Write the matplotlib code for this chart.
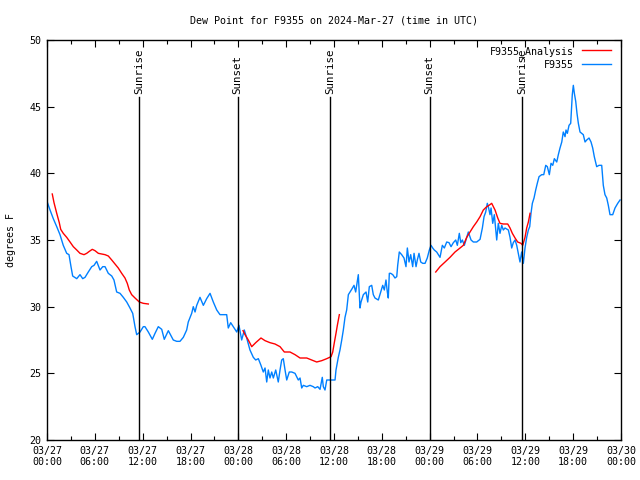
import numpy as np
import matplotlib
matplotlib.use("Agg")
import matplotlib.pyplot as plt

# ---------------- data ----------------
# time in hours since 2024-03-27 00:00 UTC
obs_hours = [0.00, 0.38, 0.79, 1.22, 1.63, 2.04, 2.47, 2.76, 3.01, 3.22, 3.73, 4.14, 4.48, 4.77,
             5.18, 5.61, 5.90, 6.23, 6.65, 6.99, 7.28, 7.69, 8.12, 8.40, 8.74, 9.16, 9.57, 10.00,
             10.41, 10.75, 11.04, 11.25, 11.67, 12.08, 12.29, 12.71, 13.21, 13.55, 13.96, 14.39,
             14.71, 15.22, 15.84, 16.27, 16.68, 17.10, 17.52, 17.72, 18.15, 18.35, 18.57, 18.78,
             19.19, 19.61, 20.03, 20.45, 20.86, 21.29, 21.70, 22.54, 22.74, 23.04, 23.37, 23.80,
             24.08, 24.42, 24.75, 25.05, 25.46, 25.88, 26.18, 26.51, 26.84, 27.13, 27.35, 27.56,
             27.76, 27.97, 28.19, 28.39, 28.69, 29.01, 29.23, 29.44, 29.64, 29.86, 30.07, 30.39,
             30.70, 31.11, 31.52, 31.74, 31.95, 32.15, 32.58, 32.99, 33.40, 33.62, 33.96, 34.25,
             34.53, 34.66, 34.87, 35.09, 35.71, 36.13, 36.25, 36.54, 36.75, 36.97, 37.17, 37.38,
             37.59, 37.80, 38.01, 38.22, 38.51, 38.72, 39.05, 39.26, 39.39, 39.68, 40.02, 40.23,
             40.43, 40.73, 40.93, 41.14, 41.56, 41.86, 42.11, 42.31, 42.52, 42.69, 42.81, 42.94,
             43.11, 43.37, 43.65, 43.87, 43.99, 44.19, 44.49, 44.78, 45.03, 45.20, 45.41, 45.62,
             45.87, 46.04, 46.29, 46.45, 46.66, 46.88, 47.13, 47.42, 47.70, 47.96, 48.17, 48.38,
             48.58, 48.88, 49.30, 49.59, 49.84, 50.14, 50.43, 50.68, 50.97, 51.27, 51.47, 51.72,
             51.90, 52.10, 52.35, 52.65, 52.85, 53.19, 53.48, 53.90, 54.32, 54.61, 54.82, 55.03,
             55.23, 55.36, 55.57, 55.70, 55.91, 56.11, 56.41, 56.61, 56.82, 57.04, 57.24, 57.45,
             57.87, 58.08, 58.29, 58.49, 58.71, 58.92, 59.12, 59.33, 59.54, 59.75, 59.96, 60.17,
             60.38, 60.55, 60.71, 60.88, 61.09, 61.30, 61.50, 61.72, 62.05, 62.31, 62.56, 62.76,
             63.01, 63.22, 63.44, 63.64, 63.94, 64.14, 64.35, 64.57, 64.76, 64.98, 65.10, 65.27,
             65.48, 65.69, 65.89, 66.02, 66.15, 66.32, 66.48, 66.65, 66.86, 67.07, 67.27, 67.49,
             67.70, 67.99, 68.24, 68.45, 68.65, 68.95, 69.24, 69.58, 69.78, 69.99, 70.21, 70.41,
             70.62, 70.96, 71.25, 71.59, 71.88]
obs_dewpt = [37.9, 37.25, 36.6, 36.0, 35.4, 34.6, 34.0, 33.9, 33.0, 32.3, 32.1, 32.4, 32.1, 32.2,
             32.6, 33.0, 33.1, 33.4, 32.75, 33.0, 33.0, 32.5, 32.3, 32.0, 31.1, 31.0, 30.7, 30.35,
             29.9, 29.5, 28.5, 27.9, 28.1, 28.5, 28.5, 28.1, 27.55, 28.0, 28.5, 28.3,
             27.55, 28.2, 27.5, 27.4, 27.4, 27.7, 28.25, 28.85, 29.5, 30.0, 29.6, 30.1,
             30.7, 30.1, 30.6, 31.0, 30.35, 29.75, 29.4, 29.4, 28.4, 28.8, 28.5, 28.1,
             28.6, 27.5, 28.25, 27.65, 26.75, 26.2, 26.0, 26.1, 25.6, 25.1, 25.4, 24.35,
             25.25, 24.65, 25.1, 24.65, 25.25, 24.35, 25.25, 26.0, 26.1, 25.25, 24.5, 25.1,
             25.1, 25.0, 24.5, 24.65, 23.9, 24.1, 24.0, 24.1, 24.0, 23.9, 24.0, 23.8,
             24.7, 24.0, 23.75, 24.5, 24.5, 24.5, 25.25, 26.2, 26.75, 27.5, 28.25, 29.2,
             29.75, 30.9, 31.1, 31.3, 31.6, 31.1, 32.4, 29.9, 30.35, 30.9, 31.1, 30.35,
             31.5, 31.6, 30.9, 30.65, 30.5, 31.1, 31.6, 31.25, 32.0, 31.1, 30.65, 32.5,
             32.5, 32.4, 32.15, 32.25, 33.1, 34.1, 33.9, 33.65, 33.0, 34.4, 33.35, 33.9,
             33.0, 34.0, 33.0, 33.5, 34.0, 33.35, 33.25, 33.25, 33.65, 34.25, 34.6, 34.4,
             34.25, 34.1, 33.7, 34.6, 34.4, 34.85, 34.8, 34.5, 34.8, 35.0, 34.6, 35.5,
             34.8, 35.0, 34.6, 35.2, 35.6, 35.0, 34.85, 34.85, 35.05, 35.9, 36.75, 37.1,
             37.75, 37.5, 36.9, 37.4, 36.25, 36.9, 35.0, 36.25, 35.5, 36.1, 35.75, 35.9,
             35.75, 35.2, 34.4, 34.8, 35.0, 34.6, 34.0, 33.35, 34.1, 33.25, 34.4, 35.2,
             35.75, 36.0, 37.0, 37.75, 38.15, 38.75, 39.25, 39.75, 39.9, 39.9, 40.6, 40.5,
             39.9, 40.75, 40.6, 41.1, 40.85, 41.4, 41.9, 42.35, 43.1, 42.75, 43.25, 43.0,
             43.6, 43.75, 45.9, 46.6, 46.0, 45.4, 44.5, 43.75, 43.1, 43.0, 42.9, 42.35,
             42.5, 42.65, 42.35, 41.9, 41.25, 40.5, 40.6, 40.6, 39.1, 38.4, 38.15, 37.6,
             36.9, 36.9, 37.4, 37.75, 38.0]

ana1_hours = [0.66, 0.88, 1.22, 1.54, 1.72, 2.04, 2.47, 2.89, 3.30, 3.73, 4.14, 4.64, 4.98, 5.31,
              5.68, 6.02, 6.44, 6.86, 7.28, 7.69, 8.12, 8.53, 8.94, 9.37, 9.78, 10.07, 10.32,
              10.62, 11.04, 11.58, 12.08, 12.71]
ana1_dewpt = [38.45, 37.8, 37.0, 36.3, 35.8, 35.5, 35.2, 34.85, 34.5, 34.25, 34.0, 33.9, 34.0, 34.15,
              34.3, 34.2, 34.0, 33.95, 33.9, 33.8, 33.5, 33.2, 32.9, 32.5, 32.15, 31.75, 31.25,
              30.9, 30.65, 30.35, 30.25, 30.2]
ana2_hours = [24.59, 24.84, 25.25, 25.68, 26.18, 26.84, 27.35, 27.97, 28.60, 29.23, 29.77, 30.48,
              31.11, 31.74, 32.58, 33.20, 33.83, 34.46, 35.09, 35.63, 35.84, 36.04, 36.25, 36.42,
              36.67]
ana2_dewpt = [28.2, 27.9, 27.5, 27.0, 27.3, 27.65, 27.45, 27.3, 27.2, 27.0, 26.6, 26.6,
              26.4, 26.15, 26.15, 26.0, 25.85, 25.95, 26.1, 26.25, 26.6, 27.3, 28.0, 28.6,
              29.4]
ana3_hours = [48.76, 49.30, 49.93, 50.55, 51.18, 51.81, 52.22, 52.65, 53.06, 53.48, 53.90, 54.32,
              54.73, 55.16, 55.44, 55.78, 56.20, 56.54, 56.82, 57.24, 57.79, 58.08, 58.37, 58.71,
              59.04, 59.46, 59.67, 59.96, 60.17, 60.38, 60.59]
ana3_dewpt = [32.6, 33.0, 33.35, 33.7, 34.1, 34.4, 34.6, 35.2, 35.6, 36.0, 36.35, 36.75,
              37.25, 37.5, 37.6, 37.75, 37.25, 36.65, 36.25, 36.2, 36.2, 35.9, 35.5, 35.15,
              34.85, 34.75, 34.6, 35.2, 35.9, 36.35, 37.0]

sun_hours = [11.60, 23.90, 35.56, 47.98, 59.58]
sun_labels = ["Sunrise", "Sunset", "Sunrise", "Sunset", "Sunrise"]

xtick_hours = list(range(0, 73, 6))
xtick_labels = ["03/27\n00:00", "03/27\n06:00", "03/27\n12:00", "03/27\n18:00",
                "03/28\n00:00", "03/28\n06:00", "03/28\n12:00", "03/28\n18:00",
                "03/29\n00:00", "03/29\n06:00", "03/29\n12:00", "03/29\n18:00",
                "03/30\n00:00"]
yticks = [20, 25, 30, 35, 40, 45, 50]

# ---------------- plot ----------------
FONT = "DejaVu Sans Mono"
FS = 7.2
plt.rcParams['font.family'] = FONT
plt.rcParams['font.size'] = FS

fig = plt.figure(figsize=(6.4, 4.8), dpi=100)
ax = fig.add_axes([47/640, 40/480, (621-47)/640, 400/480])

RED = '#ff0000'
BLUE = '#0080ff'

for i, (hx, vy) in enumerate([(ana1_hours, ana1_dewpt), (ana2_hours, ana2_dewpt), (ana3_hours, ana3_dewpt)]):
    ax.plot(hx, vy, color=RED, lw=1.0, label="F9355_Analysis" if i == 0 else None, zorder=3)
ax.plot(obs_hours, obs_dewpt, color=BLUE, lw=1.0, label="F9355", zorder=2)

for h, lab in zip(sun_hours, sun_labels):
    ax.plot([h, h], [0, 0.8575], color='black', lw=1.0, transform=ax.get_xaxis_transform(), zorder=4)
    ax.text(h, 0.866, lab, rotation=90, ha='center', va='bottom',
            transform=ax.get_xaxis_transform(), fontsize=7.8)

ax.set_xlim(0, 72)
ax.set_ylim(20, 50)
ax.set_xticks(xtick_hours)
ax.set_xticklabels(xtick_labels)
ax.set_xticks(np.arange(0, 73, 3), minor=True)
ax.set_yticks(yticks)
ax.tick_params(axis='both', which='major', direction='in', length=5, width=0.8,
               top=True, right=True, labelsize=FS, pad=4)
ax.tick_params(axis='both', which='minor', direction='in', length=3, width=0.8,
               top=True, right=True)
for s in ax.spines.values():
    s.set_linewidth(1.0)

ax.set_title("Dew Point for F9355 on 2024-Mar-27 (time in UTC)", fontsize=FS, pad=12)
ax.set_ylabel("degrees F", fontsize=FS, labelpad=9.5)

leg = ax.legend(loc='upper right', frameon=False, markerfirst=False, fontsize=FS,
                handlelength=2.9, handletextpad=0.8, labelspacing=0.3,
                borderaxespad=0.2, bbox_to_anchor=(0.993, 1.0))
for t in leg.get_texts():
    t.set_ha('right')

fig.savefig("out.png", dpi=100)
